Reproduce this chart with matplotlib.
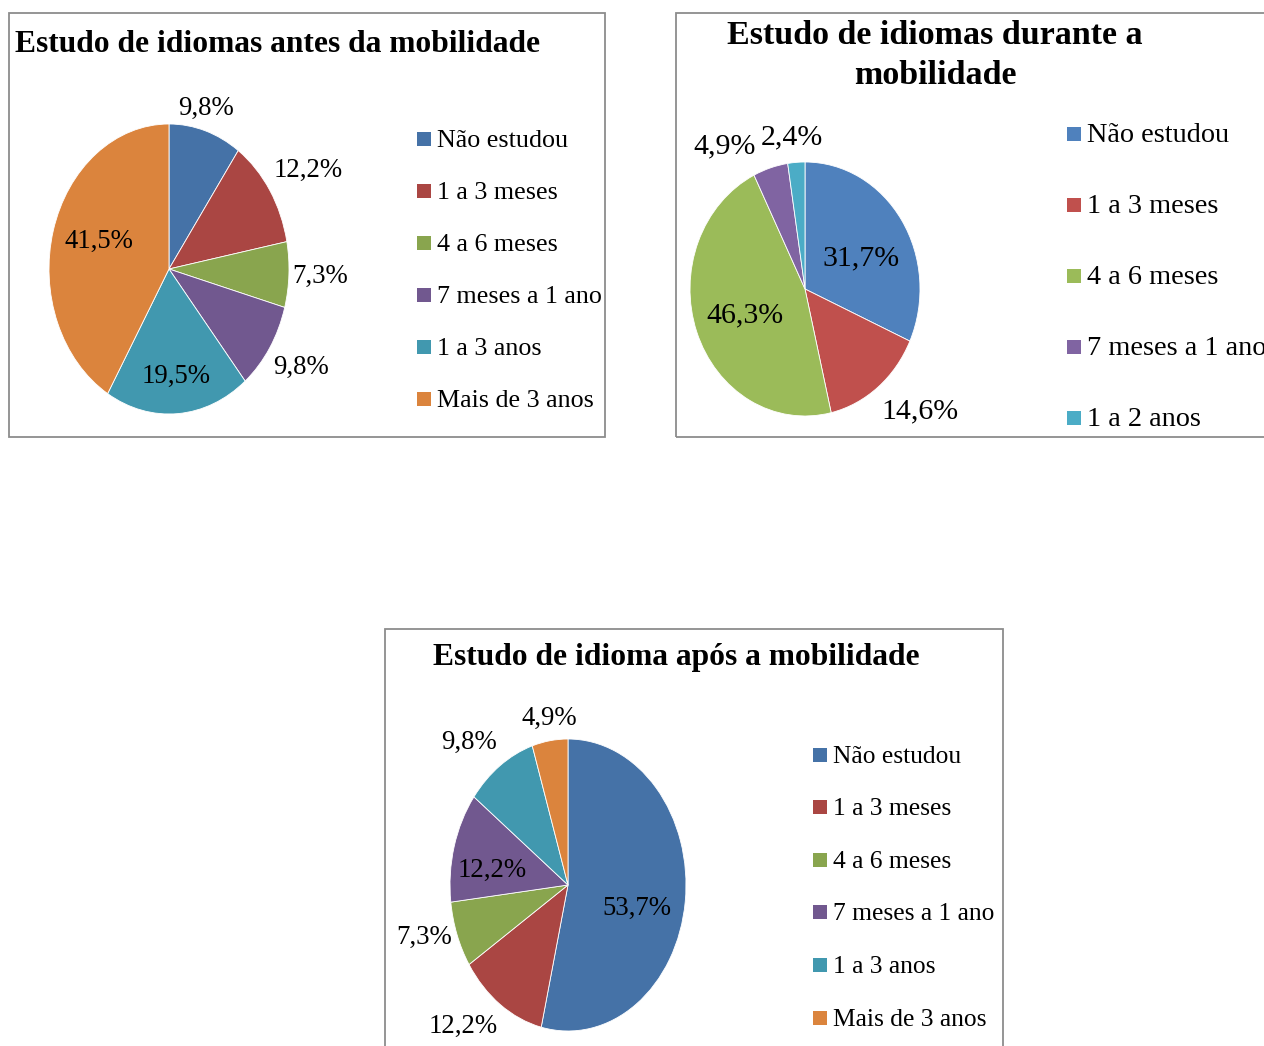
import matplotlib.pyplot as plt
from matplotlib.patches import Rectangle

plt.rcParams["font.family"] = ["Liberation Serif", "DejaVu Serif"]

W, H = 1264, 1046

# before mobility
cats_before = ["Não estudou", "1 a 3 meses", "4 a 6 meses", "7 meses a 1 ano", "1 a 3 anos", "Mais de 3 anos"]
vals_before = [9.8, 12.2, 7.3, 9.8, 19.5, 41.5]

# during mobility
cats_during = ["Não estudou", "1 a 3 meses", "4 a 6 meses", "7 meses a 1 ano", "1 a 2 anos"]
vals_during = [31.7, 14.6, 46.3, 4.9, 2.4]

# after mobility
cats_after = ["Não estudou", "1 a 3 meses", "4 a 6 meses", "7 meses a 1 ano", "1 a 3 anos", "Mais de 3 anos"]
vals_after = [53.7, 12.2, 7.3, 12.2, 9.8, 4.9]

dark_colors = ["#4572A7", "#AA4643", "#89A54E", "#71588F", "#4198AF", "#DB843D"]
light_colors = ["#4F81BD", "#C0504D", "#9BBB59", "#8064A2", "#4BACC6"]


def fx(x):
    return x / W


def fy(y):
    return 1 - y / H


def frame(fig, x0, y0, x1, y1):
    fig.add_artist(Rectangle((fx(x0), fy(y1)), fx(x1) - fx(x0), fy(y0) - fy(y1),
                             transform=fig.transFigure, fill=False,
                             edgecolor="#8c8c8c", linewidth=1.3))


def draw_pie(fig, values, colors, box, label_pos, fontsize):
    # box: left, top, right, bottom of the ellipse in pixels
    l, t, r, b = box
    ax = fig.add_axes([fx(l), fy(b), fx(r) - fx(l), fy(t) - fy(b)])
    ax.pie(values, colors=colors, startangle=90, counterclock=False,
           wedgeprops=dict(edgecolor="white", linewidth=0.6))
    ax.set_aspect("auto")
    ax.set_xlim(-1, 1)
    ax.set_ylim(-1, 1)
    ax.axis("off")
    for v, (x, y) in zip(values, label_pos):
        ax.text(x, y, f"{v:.1f}%".replace(".", ","), ha="center", va="center",
                fontsize=fontsize, clip_on=False)
    return ax


def draw_legend(fig, cats, colors, mx, baselines, fontsize, size=14):
    # square swatch sits on the text baseline, label starts right after it
    for c, col, yb in zip(cats, colors, baselines):
        fig.add_artist(Rectangle((fx(mx), fy(yb - 1)), size / W, size / H,
                                 transform=fig.transFigure, facecolor=col, edgecolor="none"))
        fig.text(fx(mx + size + 6), fy(yb), c, ha="left", va="baseline", fontsize=fontsize)


fig = plt.figure(figsize=(W / 100, H / 100), dpi=100)

# chart 1
frame(fig, 9, 13, 605, 437)
fig.text(fx(15), fy(44), "Estudo de idiomas antes da mobilidade", ha="left", va="center",
         fontsize=22.7, fontweight="bold")
draw_pie(fig, vals_before, dark_colors, (49, 124, 289, 414),
         [(0.31, 1.11), (1.16, 0.68), (1.26, -0.05), (1.10, -0.68), (0.06, -0.74), (-0.58, 0.19)],
         19.3)
draw_legend(fig, cats_before, dark_colors, 417, [147, 199, 251, 303, 355, 407], 18.7)

# chart 2
frame(fig, 676, 13, 1275, 437)
fig.text(fx(935), fy(35), "Estudo de idiomas durante a", ha="center", va="center",
         fontsize=24.5, fontweight="bold")
fig.text(fx(935), fy(75), "mobilidade", ha="center", va="center",
         fontsize=24.5, fontweight="bold")
draw_pie(fig, vals_during, light_colors, (690, 162, 920, 416),
         [(0.49, 0.24), (1.0, -0.96), (-0.52, -0.21), (-0.70, 1.12), (-0.11, 1.19)],
         21.5)
draw_legend(fig, cats_during, light_colors, 1067, [142, 213, 284, 355, 426], 20.3)

# chart 3
frame(fig, 385, 629, 1003, 1060)
fig.text(fx(676), fy(657), "Estudo de idioma após a mobilidade", ha="center", va="center",
         fontsize=22.7, fontweight="bold")
draw_pie(fig, vals_after, dark_colors, (450, 739, 686, 1031),
         [(0.58, -0.16), (-0.89, -0.97), (-1.22, -0.36), (-0.64, 0.10), (-0.84, 0.98), (-0.16, 1.14)],
         19.3)
draw_legend(fig, cats_after, dark_colors, 813, [763, 815, 868, 920, 973, 1026], 18.4)

fig.savefig("out.png", dpi=100, facecolor="white")
